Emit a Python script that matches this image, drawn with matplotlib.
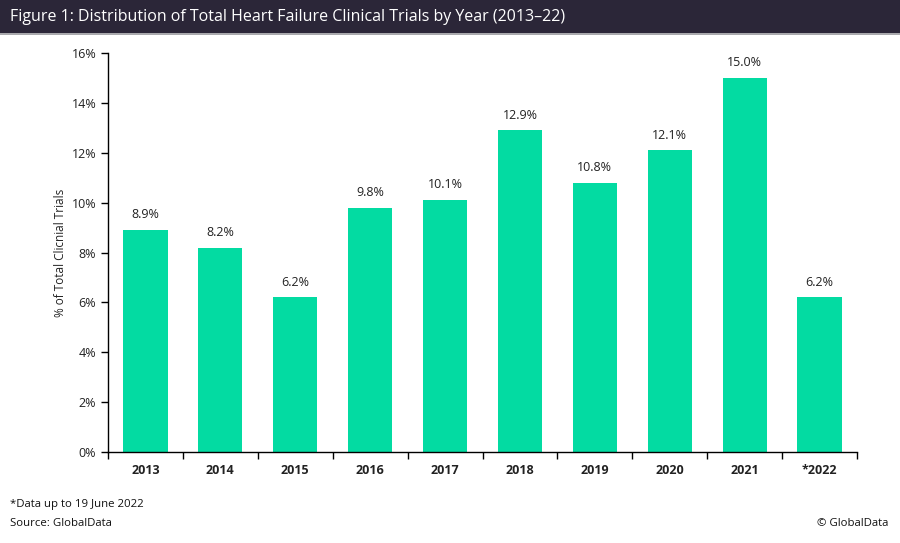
import matplotlib
matplotlib.use("Agg")
import matplotlib.pyplot as plt
from matplotlib.patches import Rectangle
from matplotlib.ticker import FuncFormatter, FixedLocator, NullFormatter

# data
years = ["2013", "2014", "2015", "2016", "2017", "2018", "2019", "2020", "2021", "*2022"]
share = [8.9, 8.2, 6.2, 9.8, 10.1, 12.9, 10.8, 12.1, 15.0, 6.2]

plt.rcParams['font.family'] = ['Open Sans', 'DejaVu Sans']

fig = plt.figure(figsize=(9, 5.43), dpi=100)

# title band
fig.patches.append(Rectangle((0, 1 - 33 / 543), 1, 33 / 543, transform=fig.transFigure,
                             facecolor="#2b2638", edgecolor="none", zorder=0))
fig.patches.append(Rectangle((0, 1 - 35 / 543), 1, 2 / 543, transform=fig.transFigure,
                             facecolor="#a9a9ad", edgecolor="none", zorder=0))
fig.text(10 / 900, 1 - 17 / 543, "Figure 1: Distribution of Total Heart Failure Clinical Trials by Year (2013\u201322)",
         color="white", fontsize=11.5, va="center", ha="left")

ax = fig.add_axes([108 / 900, 1 - 452 / 543, (857 - 108) / 900, (452 - 53) / 543])
x = list(range(len(years)))
bars = ax.bar(x, share, width=0.59, color="#03dba2", zorder=2)
for xi, v in zip(x, share):
    ax.text(xi, v + 0.35, f"{v:.1f}%", ha="center", va="bottom", fontsize=9, color="#222222")

ax.set_xlim(-0.5, len(years) - 0.5)
ax.set_ylim(0, 16)
ax.set_yticks(range(0, 17, 2))
ax.yaxis.set_major_formatter(FuncFormatter(lambda v, p: f"{int(v)}%"))
ax.set_xticks(x)
ax.set_xticklabels(years, fontsize=9, fontweight="bold", color="#222222")
ax.tick_params(axis="x", length=0, pad=9)
ax.xaxis.set_minor_locator(FixedLocator([i - 0.5 for i in range(len(years) + 1)]))
ax.xaxis.set_minor_formatter(NullFormatter())
ax.tick_params(axis="x", which="minor", length=5, width=1, direction="out", color="black")
ax.tick_params(axis="y", length=5, width=1, labelsize=9, labelcolor="#222222")
for s in ["top", "right"]:
    ax.spines[s].set_visible(False)
ax.spines["left"].set_linewidth(1)
ax.spines["bottom"].set_linewidth(1)
ax.set_ylabel("% of Total Clicnial Trials", fontsize=8.5, color="#222222", labelpad=3)

fig.text(10 / 900, 1 - 505 / 543, "*Data up to 19 June 2022", fontsize=8.2, va="center", ha="left", color="#111111")
fig.text(10 / 900, 1 - 523 / 543, "Source: GlobalData", fontsize=8.2, va="center", ha="left", color="#111111")
fig.text(888 / 900, 1 - 523 / 543, "\u00a9 GlobalData", fontsize=8.2, va="center", ha="right", color="#111111")

fig.savefig("out.png", dpi=100)
